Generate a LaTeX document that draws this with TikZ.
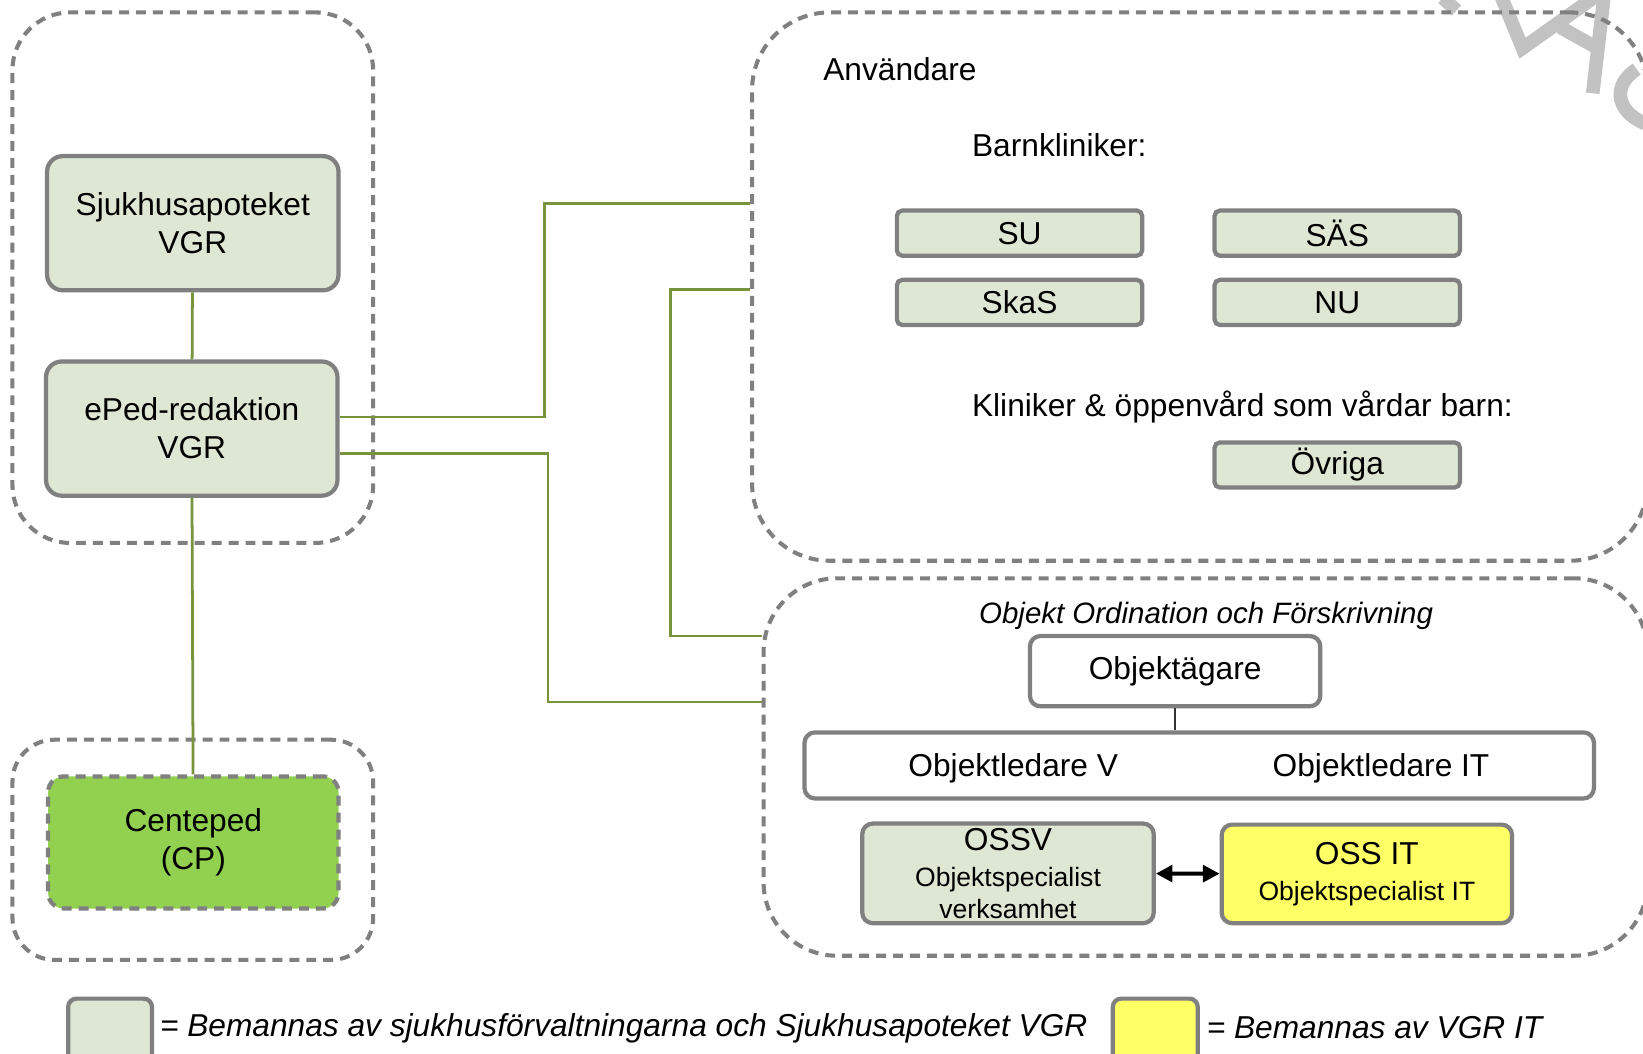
\documentclass[tikz,border=0pt]{standalone}
\usepackage{fontspec}
\setmainfont{Liberation Sans}
\usepackage{tikz}
\usetikzlibrary{positioning, arrows.meta}
\definecolor{boxgreen}{RGB}{221,231,211}
\definecolor{cpgreen}{RGB}{146,208,80}
\definecolor{ossyellow}{RGB}{255,255,102}
\definecolor{rim}{RGB}{128,128,128}
\definecolor{linkgreen}{RGB}{119,147,60}
\definecolor{wmgray}{RGB}{194,194,194}
\tikzset{
x=0.01cm, y=-0.01cm, % one unit = one pixel of the sketch, y runs down
grp/.style={draw=rim, line width=1.1pt, dash pattern=on 2.7pt off 1.9pt}, % the dashed frames
role/.style={draw=rim, line width=1.15pt, fill=boxgreen, rounded corners=0.15cm, align=center, inner sep=0pt}, % green boxes
clinic/.style={role, rounded corners=0.05cm, minimum width=2.34cm, minimum height=0.43cm}, % small clinic boxes
whitebox/.style={role, fill=white, rounded corners=0.1cm}, % white boxes
lbl/.style={inner sep=0pt}, % plain texts
link/.style={draw=linkgreen, line width=0.75pt}, % green connectors
duo/.style={{Triangle[length=4.5pt,width=4.5pt]}-{Triangle[length=4.5pt,width=4.5pt]}, line width=1.1pt}, % double arrow
wm/.style={draw=wmgray, line width=0.13cm}, % watermark strokes
}

\begin{document}
\begin{tikzpicture}[font=\fontsize{8.6}{10.3}\selectfont]
\useasboundingbox (0,0) rectangle (1568,1005);
% watermark (cut by the page)
\draw[wm] (1377,-2) -- (1390,10);
\draw[wm] (1432,-5) -- (1453,46) -- (1522,-3);
\draw[wm] (1489,26) -- (1523,45);
\draw[wm] (1531,-5) -- (1520,89);
\draw[wm] (1562,66) .. controls (1540,80) and (1540,105) .. (1570,118);
% frames
\node[grp, rounded corners=0.55cm, minimum width=3.44cm, minimum height=5.06cm] (apotek) at (184,265) {};
\node[grp, rounded corners=0.4cm, minimum width=3.44cm, minimum height=2.1cm] (center) at (184,811) {};
\node[grp, rounded corners=0.74cm, minimum width=8.54cm, minimum height=5.23cm] (users) at (1145,273.5) {};
\node[grp, rounded corners=0.7cm, minimum width=8.43cm, minimum height=3.6cm] (objekt) at (1150.5,732) {};
% left side
\node[role, minimum width=2.78cm, minimum height=1.28cm] (sa) at (184,213) {Sjukhusapoteket\\VGR};
\node[role, minimum width=2.78cm, minimum height=1.28cm] (ep) at (183,409) {ePed-redaktion\\VGR};
\node[role, fill=cpgreen, dash pattern=on 2.7pt off 1.9pt, minimum width=2.77cm, minimum height=1.26cm] (cp) at (184.5,804) {Centeped\\(CP)};
% users
\node[lbl, anchor=west] (anv) at (785,66) {Användare};
\node[lbl, anchor=west] (bk) at (927,139) {Barnkliniker:};
\node[clinic] (su) at (973,222.5) {SU};
\node[clinic, right=0.65cm of su] (sas) {SÄS};
\node[clinic, below=0.19cm of su] (skas) {SkaS};
\node[clinic, right=0.65cm of skas] (nu) {NU};
\node[lbl, anchor=west] (kl) at (927,388) {Kliniker \& öppenvård som vårdar barn:};
\node[clinic, below=1.08cm of nu] (ovr) {Övriga};
% object
\node[lbl, font=\fontsize{8}{9.6}\selectfont\itshape] (ttl) at (1151,588) {Objekt Ordination och Förskrivning};
\node[whitebox, minimum width=2.77cm, minimum height=0.67cm] (oa) at (1121.5,640.5) {Objektägare};
\node[whitebox, minimum width=7.53cm, minimum height=0.63cm] (ol) at (1144.5,730.5) {};
\node[lbl] (olv) at (967,733) {Objektledare V};
\node[lbl] (olit) at (1318,733) {Objektledare IT};
\node[role, rounded corners=0.1cm, minimum width=2.78cm, minimum height=0.95cm, font=\fontsize{7.2}{8.6}\selectfont] (ossv) at (962,833.5) {{\fontsize{8.6}{10.3}\selectfont OSSV}\\[1.2pt]Objektspecialist\\verksamhet};
\node[role, fill=ossyellow, rounded corners=0.1cm, minimum width=2.77cm, minimum height=0.94cm, font=\fontsize{7.2}{8.6}\selectfont] (ossit) at (1304.5,834) {{\fontsize{8.6}{10.3}\selectfont OSS IT}\\[1.2pt]Objektspecialist IT};
% legend
\node[role, rounded corners=0.08cm, minimum width=0.8cm, minimum height=0.64cm, anchor=north west] (lg1) at (63,951) {};
\node[lbl, anchor=west, font=\fontsize{8.6}{10.3}\selectfont\itshape] (lt1) at (152,981) {= Bemannas av sjukhusförvaltningarna och Sjukhusapoteket VGR};
\node[role, fill=ossyellow, rounded corners=0.08cm, minimum width=0.81cm, minimum height=0.64cm, anchor=north west] (lg2) at (1060,951) {};
\node[lbl, anchor=west, font=\fontsize{8.6}{10.3}\selectfont\itshape] (lt2) at (1151,981) {= Bemannas av VGR IT};
% connectors
\draw[link] (sa) -- (ep);
\draw[link] (ep) -- (cp);
\draw[link] (ep.east |- 0,398) -| (520,194) -- (users.west |- 0,194);
\draw[link] (ep.east |- 0,433) -| (523,670) -- (objekt.west |- 0,670);
\draw[link] (users.west |- 0,276) -| (640,607) -- (objekt.west |- 0,607);
\draw[black!80, line width=0.5pt] (oa) -- (oa.south |- ol.north);
\draw[duo] (ossv) -- (ossit);
\end{tikzpicture}
\end{document}
